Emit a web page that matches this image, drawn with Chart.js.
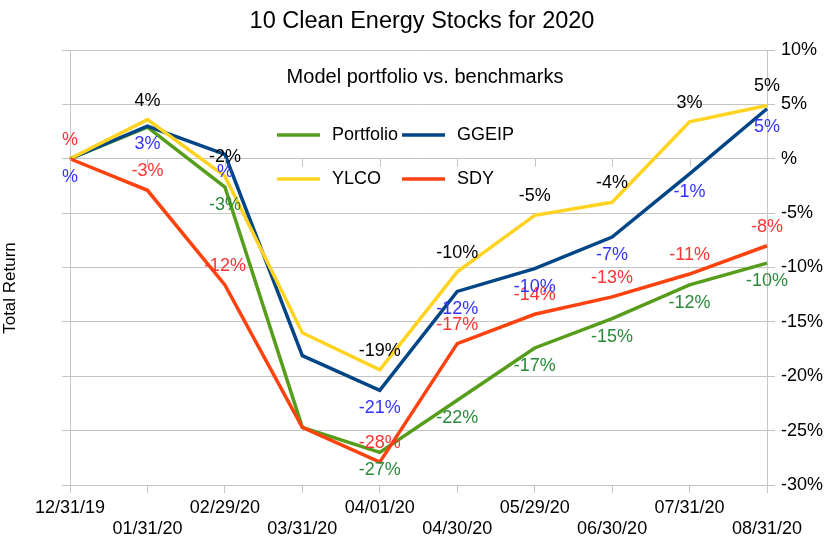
<!DOCTYPE html>
<html>
<head>
<meta charset="utf-8">
<title>10 Clean Energy Stocks for 2020</title>
<script src="https://cdn.jsdelivr.net/npm/chart.js@4.4.0/dist/chart.umd.min.js"></script>
<style>
  html, body { margin: 0; padding: 0; background: #fff; }
  #wrap { width: 830px; height: 542px; }
</style>
</head>
<body>
<div id="wrap"><canvas id="chart" width="830" height="542"></canvas></div>
<script>
// Data (percent total return)
const categories = ['12/31/19', '01/31/20', '02/29/20', '03/31/20', '04/01/20',
                    '04/30/20', '05/29/20', '06/30/20', '07/31/20', '08/31/20'];
const portfolio = [0, 2.9, -2.6, -24.7, -27.0, -22.2, -17.4, -14.7, -11.6, -9.6];
const ggeip     = [0, 3.0, 0.4, -18.1, -21.3, -12.2, -10.1, -7.2, -1.4, 4.6];
const ylco      = [0, 3.6, -1.6, -16.0, -19.4, -10.4, -5.2, -4.0, 3.4, 4.9];
const sdy       = [0, -2.9, -11.6, -24.7, -27.9, -17.0, -14.3, -12.7, -10.6, -8.0];
const yTicks = { min: -30, max: 10, step: 5 };

const FONT = '"Liberation Sans", Arial, sans-serif';
const GRID = '#c4c4c4';

// number format like "#%": zero shows only the sign
function pct(v) {
    const r = Math.round(v);
    return (r === 0 ? '' : r) + '%';
}

// Title, subtitle, legend, y title, data labels and the ticks on the 0% line
const decor = {
    id: 'decor',
    afterDatasetsDraw(chart) {
        const ctx = chart.ctx;
        const xs = chart.scales.x, ys = chart.scales.y;
        ctx.save();

        // small ticks below the zero line
        const y0 = ys.getPixelForValue(0);
        ctx.strokeStyle = GRID;
        ctx.lineWidth = 1;
        categories.forEach((c, i) => {
            const x = Math.round(xs.getPixelForValue(i)) + 0.5;
            ctx.beginPath();
            ctx.moveTo(x, y0);
            ctx.lineTo(x, y0 + 8);
            ctx.stroke();
        });

        // data labels
        ctx.font = '18px ' + FONT;
        ctx.textAlign = 'center';
        ctx.textBaseline = 'middle';
        chart.data.datasets.forEach((ds, di) => {
            const meta = chart.getDatasetMeta(di);
            meta.data.forEach((pt, i) => {
                if (ds.noLabel.includes(i)) return;
                ctx.fillStyle = ds.labelColor;
                ctx.fillText(pct(ds.data[i]), pt.x, pt.y + ds.labelOffset);
            });
        });
        ctx.restore();
    },
    afterDraw(chart) {
        const ctx = chart.ctx;
        ctx.save();
        ctx.fillStyle = '#000';
        ctx.textAlign = 'center';
        ctx.textBaseline = 'middle';

        ctx.font = '23.5px ' + FONT;
        ctx.fillText('10 Clean Energy Stocks for 2020', 422, 22);

        ctx.font = '20px ' + FONT;
        ctx.fillText('Model portfolio vs. benchmarks', 425, 77);

        // y axis title
        ctx.save();
        ctx.translate(10, 288);
        ctx.rotate(-Math.PI / 2);
        ctx.font = '17px ' + FONT;
        ctx.fillText('Total Return', 0, 0);
        ctx.restore();

        // legend, 2 x 2 inside the plot
        const items = [
            ['Portfolio', '#579d1c', 277, 135],
            ['GGEIP', '#004586', 402, 135],
            ['YLCO', '#ffd320', 277, 179],
            ['SDY', '#ff420e', 402, 179]
        ];
        ctx.font = '18px ' + FONT;
        ctx.textAlign = 'left';
        items.forEach(([name, color, x, y]) => {
            ctx.strokeStyle = color;
            ctx.lineWidth = 3.5;
            ctx.beginPath();
            ctx.moveTo(x, y);
            ctx.lineTo(x + 43, y);
            ctx.stroke();
            ctx.fillStyle = '#000';
            ctx.fillText(name, x + 55, y);
        });
        ctx.restore();
    }
};

const lineStyle = { borderWidth: 3.5, pointRadius: 0, tension: 0, fill: false };

new Chart(document.getElementById('chart'), {
    type: 'line',
    data: {
        labels: categories,
        datasets: [
            { label: 'SDY', data: sdy, borderColor: '#ff420e', labelColor: '#ff3333',
              labelOffset: -19, noLabel: [3], ...lineStyle },
            { label: 'YLCO', data: ylco, borderColor: '#ffd320', labelColor: '#000000',
              labelOffset: -19, noLabel: [0, 3], ...lineStyle },
            { label: 'GGEIP', data: ggeip, borderColor: '#004586', labelColor: '#3333ff',
              labelOffset: 18, noLabel: [3], ...lineStyle },
            { label: 'Portfolio', data: portfolio, borderColor: '#579d1c', labelColor: '#2a8a3a',
              labelOffset: 18, noLabel: [0, 1, 3], ...lineStyle }
        ]
    },
    options: {
        responsive: false,
        animation: false,
        devicePixelRatio: 1,
        layout: { padding: { top: 50, left: 0, right: 0, bottom: 0 } },
        plugins: { legend: { display: false }, title: { display: false }, tooltip: { enabled: false } },
        scales: {
            x: {
                offset: false,
                grid: { drawOnChartArea: false, color: GRID, tickLength: 8 },
                border: { display: true, color: GRID },
                ticks: {
                    autoSkip: false, maxRotation: 0, minRotation: 0, padding: 4,
                    color: '#000', font: { family: FONT, size: 18, lineHeight: 1.2 },
                    callback: function (value, index) {
                        const s = this.getLabelForValue(value);
                        return index % 2 === 0 ? [s, ''] : ['', s];
                    }
                },
                afterFit(scale) { scale.height = 57; }
            },
            y: {
                position: 'right',
                min: yTicks.min, max: yTicks.max,
                grid: { color: GRID, tickLength: 8 },
                border: { display: true, color: GRID },
                ticks: {
                    stepSize: yTicks.step, padding: 6, color: '#000',
                    font: { family: FONT, size: 18 },
                    callback: v => (v === 0 ? '' : v) + '%'
                },
                afterFit(scale) { scale.width = 63; }
            },
            yl: {
                position: 'left',
                min: yTicks.min, max: yTicks.max,
                grid: { drawOnChartArea: false, color: GRID, tickLength: 8 },
                border: { display: true, color: GRID },
                ticks: { stepSize: yTicks.step, display: false },
                afterFit(scale) { scale.width = 70; }
            }
        }
    },
    plugins: [decor]
});
</script>
</body>
</html>
